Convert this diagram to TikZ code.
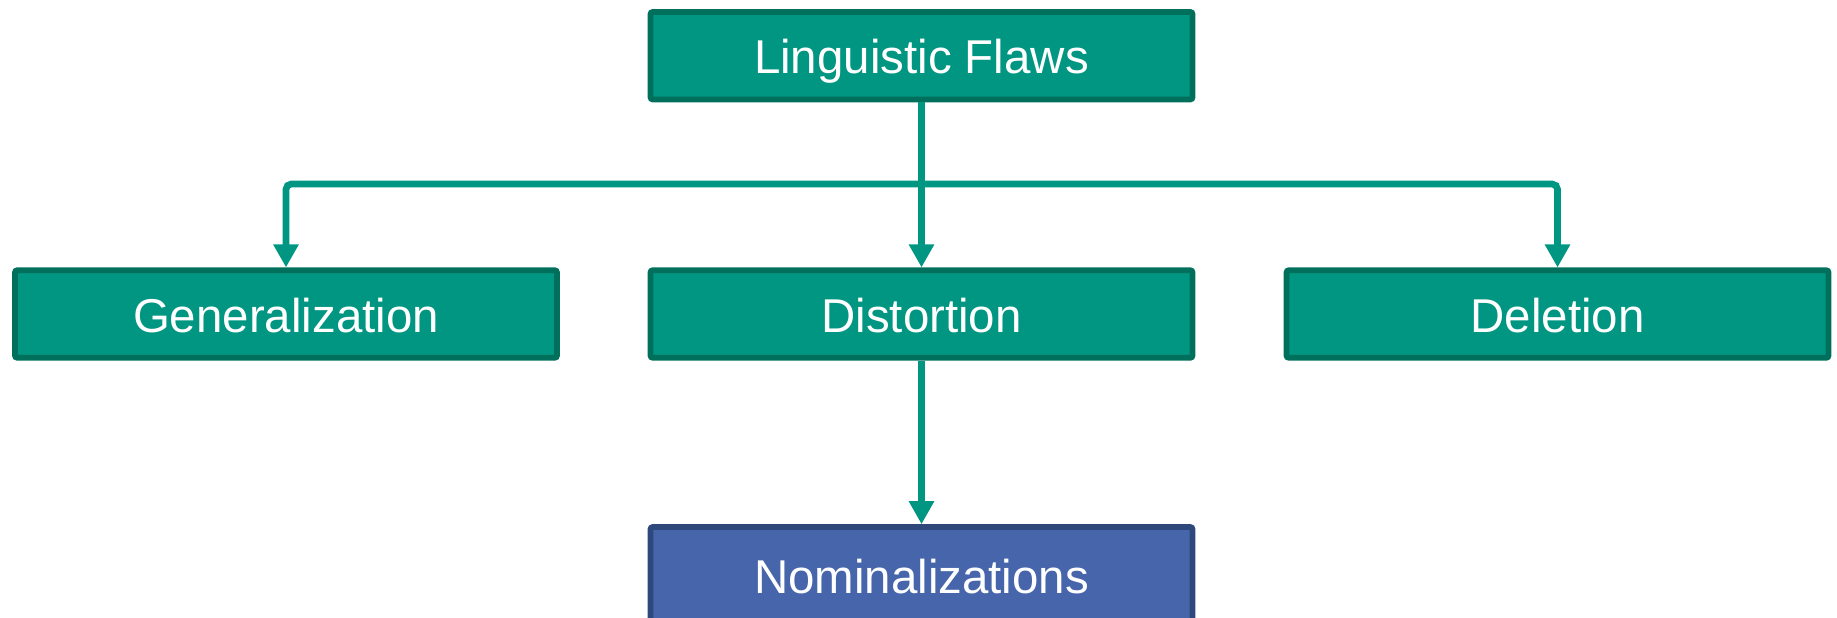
\documentclass[tikz,border=0pt]{standalone}
\usepackage{fontspec}
\setmainfont{Liberation Sans}
\usetikzlibrary{arrows.meta}
\usetikzlibrary{positioning}
\definecolor{tealfill}{RGB}{0, 150, 130}
\definecolor{tealline}{RGB}{0, 112, 92}
\definecolor{bluefill}{RGB}{70, 101, 171}
\definecolor{blueline}{RGB}{47, 72, 124}

\begin{document}
\begin{tikzpicture}[
        flawbox/.style={draw=tealline, fill=tealfill, line width=1.6pt, rounded corners=0.6pt,
                        minimum width=5.42cm, minimum height=0.875cm, inner sep=0pt,
                        text height=0.36cm, text depth=0cm,
                        text=white, font=\fontsize{13.5}{16}\selectfont},
        subbox/.style={flawbox, draw=blueline, fill=bluefill},
        link/.style={draw=tealfill, line width=1.9pt, rounded corners=1.5pt,
                     -{Triangle[width=2.4mm,length=2.3mm]}}
    ]
            \useasboundingbox (0,0) rectangle (18.37,-6.17);
            \node[flawbox] (flaws)   at ( 9.215,-0.557) {Linguistic Flaws};
            \node[flawbox] (general) at ( 2.860,-3.140) {Generalization};
            \node[flawbox] (distort) at ( 9.215,-3.140) {Distortion};
            \node[flawbox] (delete)  at (15.575,-3.140) {Deletion};
            \node[subbox, minimum height=0.96cm] (nominal) at ( 9.215,-5.750) {Nominalizations};
            \coordinate (bus) at (9.215,-1.84);
            \draw[link] (flaws.south) -- (distort.north);
            \draw[link] (bus) -| (general.north);
            \draw[link] (bus) -| (delete.north);
            \draw[link] (distort.south) -- (nominal.north);
        \end{tikzpicture}
\end{document}
